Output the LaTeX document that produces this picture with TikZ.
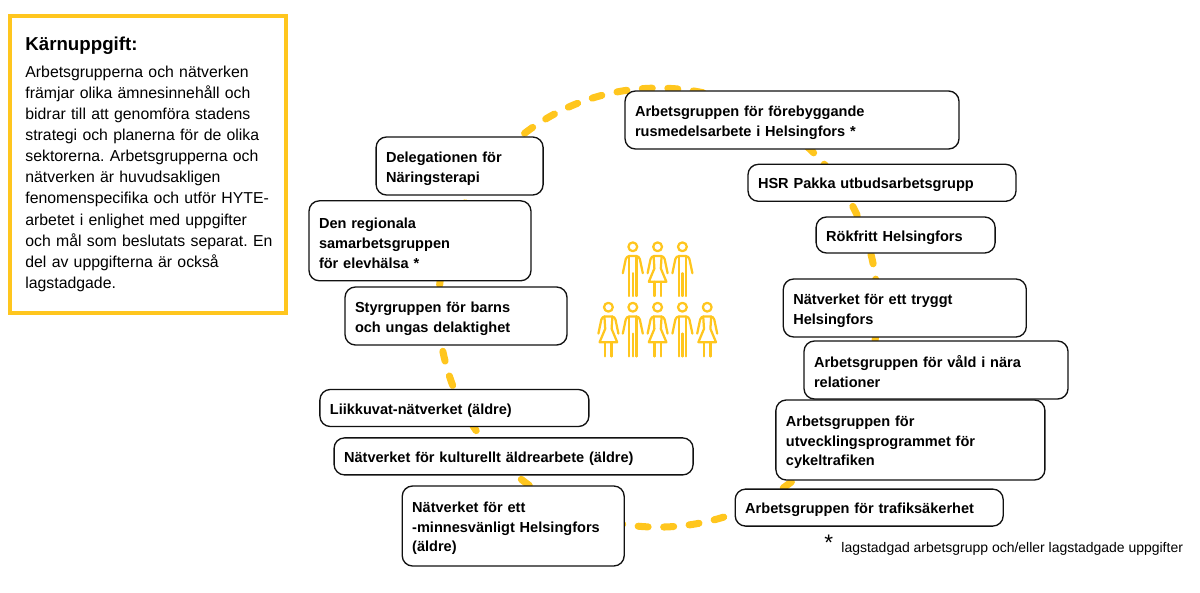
\documentclass[tikz,border=0pt]{standalone}
\usepackage{fontspec}
\setmainfont{Liberation Sans}
\usepackage{xcolor}
\usetikzlibrary{positioning}
\frenchspacing
\definecolor{Gold}{HTML}{FFC61E}
\definecolor{Ink}{HTML}{111111}
\begin{document}
\begin{tikzpicture}[
  box/.style 2 args={draw=Ink,fill=white,rounded corners=2.6mm,line width=0.95pt,align=left,
    text width=#1cm-0.5cm,minimum height=#2cm,inner xsep=0.25cm,inner ysep=0pt,
    execute at begin node={\rule{0pt}{11pt}},
    font=\fontsize{10.35}{14}\selectfont\bfseries},
  corebox/.style={draw=Gold,line width=2.4pt,minimum width=6.9cm,minimum height=7.425cm},
  coretext/.style={align=left,text width=6.5cm,inner sep=0pt,font=\fontsize{11.25}{15}\selectfont},
  ring/.style={draw=Gold,line width=5pt,line cap=round,dash pattern=on 0.25cm off 0.3885cm,dash phase=0.175cm},
  figure/.style={draw=Gold,line width=1.6pt,line cap=round,line join=round},
  man/.pic={
    \draw[figure] (0,0) circle (0.11);
    \draw[figure,rounded corners=0.8mm] (-0.25,-0.66) -- (-0.16,-0.23) -- (0.16,-0.23) -- (0.25,-0.66);
    \draw[figure] (-0.09,-0.23) -- (-0.09,-1.23) (0.09,-0.23) -- (0.09,-1.23) (0,-0.66) -- (0,-1.23);
  },
  woman/.pic={
    \draw[figure] (0,0) circle (0.11);
    \draw[figure,rounded corners=0.8mm] (-0.25,-0.66) -- (-0.16,-0.23) -- (0.16,-0.23) -- (0.25,-0.66);
    \draw[figure] (-0.1,-0.23) -- (-0.08,-0.54) -- (-0.22,-0.875) -- (0.22,-0.875) -- (0.08,-0.54) -- (0.1,-0.23);
    \draw[figure] (-0.08,-0.875) -- (-0.08,-1.23) (0.08,-0.875) -- (0.08,-1.23);
  }
]
\useasboundingbox (0,0) rectangle (30,14.8);
% The ring lies behind all the groups.
\coordinate (mid) at (16.45,7.11);
\draw[ring] (mid) circle (5.4875);

% Core task.
\node[corebox] (core) at (3.7,10.69) {};
\node[coretext,anchor=west] (coretext) at ([xshift=0.42cm]core.west) {{\fontsize{13.3}{17}\selectfont\bfseries Kärnuppgift:}\\[4pt]
  Arbetsgrupperna och nätverken\\främjar olika ämnesinnehåll och\\bidrar till att genomföra stadens\\strategi och planerna för de olika\\sektorerna. Arbetsgrupperna och\\nätverken är huvudsakligen\\fenomenspecifika och utför HYTE-\\arbetet i enlighet med uppgifter\\och mål som beslutats separat. En\\del av uppgifterna är också\\lagstadgade.};

% Left side of the ring.
\node[box={4.175}{1.45}] (delegation) at (11.49,10.65) {Delegationen för\\Näringsterapi};
\node[box={5.55}{2.0}] (regional) at (10.5,8.78) {Den regionala\\samarbetsgruppen\\för elevhälsa *};
\node[box={5.55}{1.45}] (styr) at (11.4,6.9) {Styrgruppen för barns\\och ungas delaktighet};
\node[box={6.725}{0.925}] (liikkuvat) at (11.36,4.6) {Liikkuvat-nätverket (äldre)};
\node[box={8.975}{0.925}] (kultur) at (12.84,3.39) {Nätverket för kulturellt äldrearbete (äldre)};
\node[box={5.55}{2.0}] (minne) at (12.83,1.65) {Nätverket för ett\\-minnesvänligt Helsingfors\\(äldre)};

% Right side of the ring.
\node[box={8.35}{1.45}] (rus) at (19.8,11.8) {Arbetsgruppen för förebyggande\\rusmedelsarbete i Helsingfors *};
\node[box={6.7}{0.925}] (pakka) at (22.05,10.23) {HSR Pakka utbudsarbetsgrupp};
\node[box={4.475}{0.9}] (rokfritt) at (22.64,8.925) {Rökfritt Helsingfors};
\node[box={6.075}{1.45}] (trygg) at (22.62,7.1) {Nätverket för ett tryggt\\Helsingfors};
\node[box={6.6}{1.45}] (vald) at (23.4,5.55) {Arbetsgruppen för våld i nära\\relationer};
\node[box={6.725}{2.0}] (cykel) at (22.76,3.8) {Arbetsgruppen för\\utvecklingsprogrammet för\\cykeltrafiken};
\node[box={6.7}{0.925}] (trafik) at (21.73,2.11) {Arbetsgruppen för trafiksäkerhet};

% People in the middle.
\foreach \name/\xpos in {man/15.82,woman/16.44,man/17.06}
  \pic at (\xpos,8.63) {\name};
\foreach \name/\xpos in {woman/15.21,man/15.82,woman/16.44,man/17.06,woman/17.68}
  \pic at (\xpos,7.12) {\name};

% Footnote.
\node[anchor=base west,inner sep=0pt,font=\fontsize{16}{16}\selectfont] (star) at (20.6,1.05) {*};
\node[anchor=base west,inner sep=0pt,font=\fontsize{9.93}{11}\selectfont] (note) at (21.03,0.98) {lagstadgad arbetsgrupp och/eller lagstadgade uppgifter};
\end{tikzpicture}
\end{document}
